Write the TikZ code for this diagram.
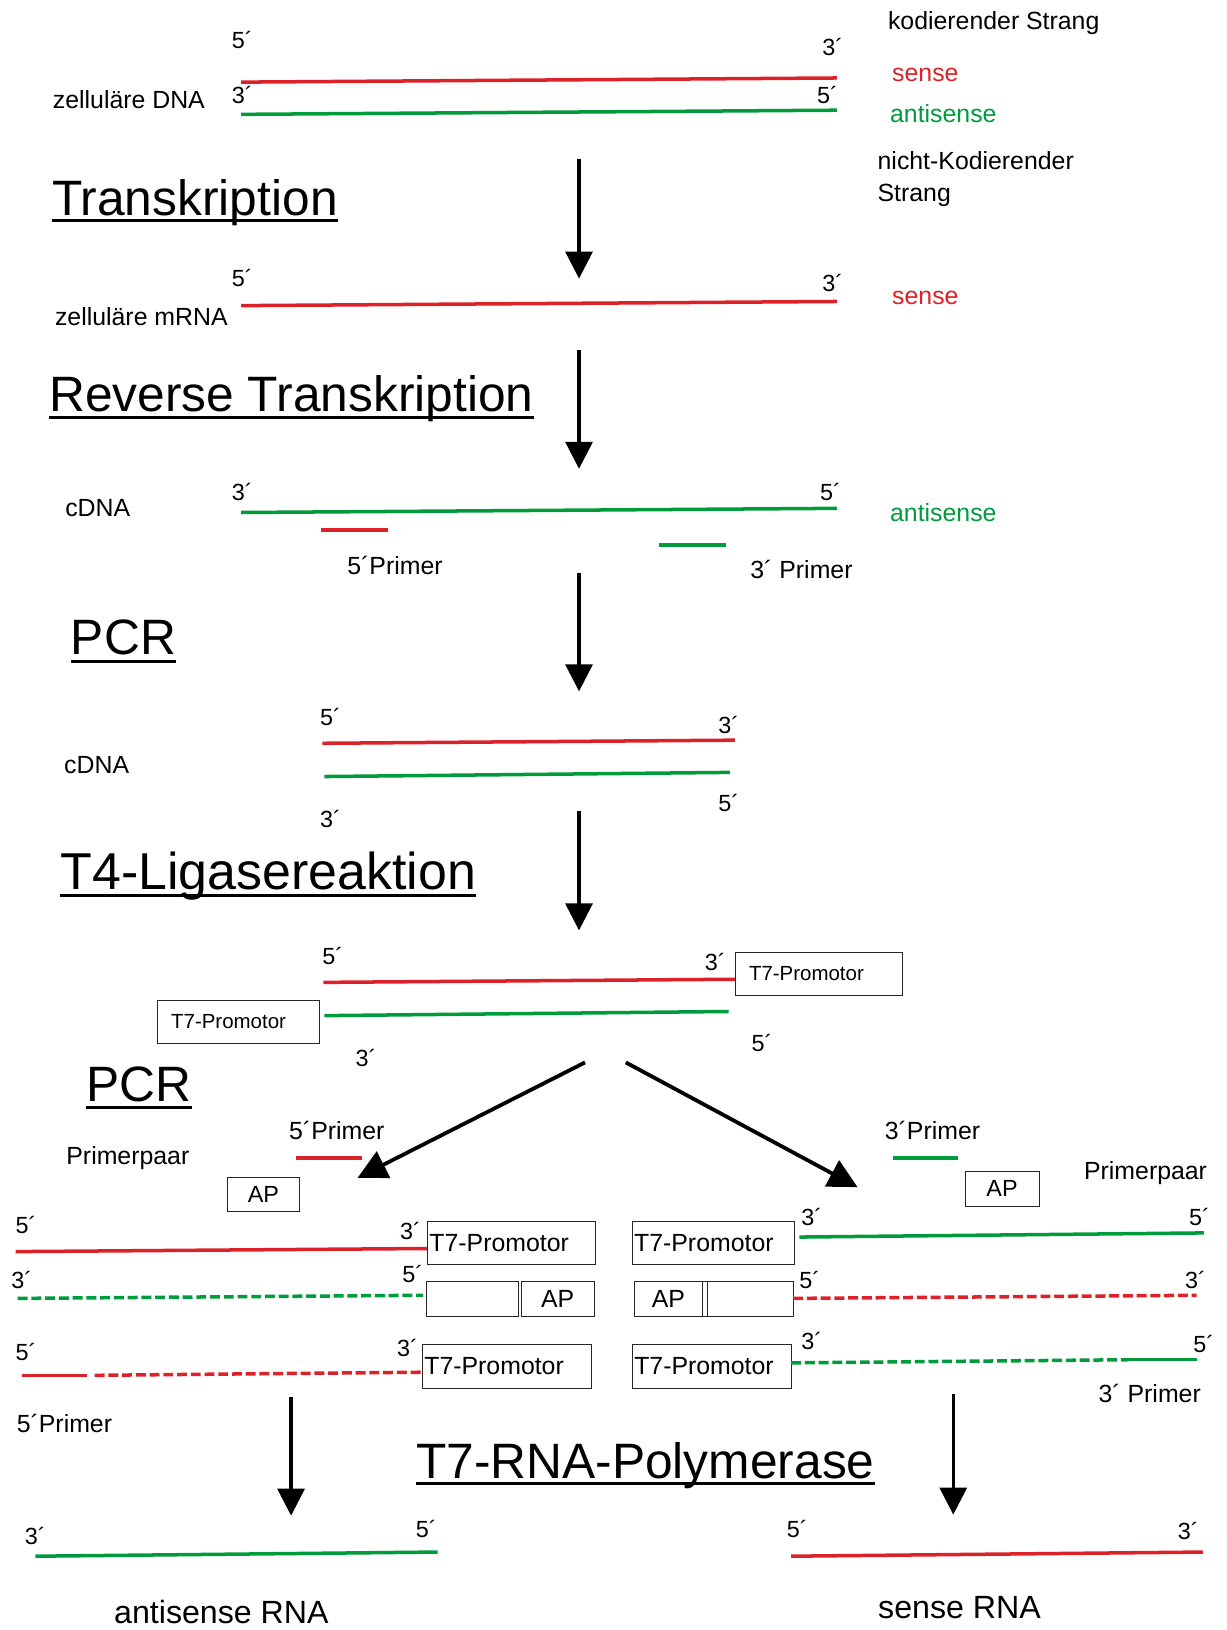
\documentclass[tikz,border=0pt]{standalone}
\usepackage{fontspec}
\setmainfont{Liberation Sans}
\usetikzlibrary{arrows.meta}
\definecolor{cred}{HTML}{DC2228}
\definecolor{cgreen}{HTML}{009B3A}
\tikzset{
  every picture/.style={x=0.025cm, y=-0.025cm},
  sensestrand/.style={draw=cred, line width=2.4pt},
  antistrand/.style={draw=cgreen, line width=2.4pt},
  gapped/.style={dash pattern=on 6.8pt off 2.6pt},
  primer/.style={line width=2.8pt},
  prime/.style={font=\fontsize{16}{18}\selectfont, inner sep=0pt},
  lab/.style={font=\fontsize{17}{22}\selectfont, inner sep=0pt},
  heading/.style={font=\fontsize{34}{40}\selectfont, anchor=base west, inner sep=0pt},
  uline/.style={line width=2.1pt},
  flow/.style={-{Triangle[length=6.5mm, width=6.5mm]}, line width=2.2pt},
  fork/.style={-{Triangle[length=7mm, width=7mm]}, line width=2.6pt},
  box/.style={draw=black!85, line width=0.6pt, inner sep=0pt, anchor=north west},
}

\begin{document}
\begin{tikzpicture}
  \useasboundingbox (0,0) rectangle (1180,1568);
  % zellulaere DNA
  \node[prime] (d5) at (233,38) {5´};
  \node[prime] (d3) at (801,45) {3´};
  \node[prime] (e3) at (233,91) {3´};
  \node[prime] (e5) at (796,91) {5´};
  \node[lab] (dna) at (124,96) {zelluläre DNA};
  \draw[sensestrand] (232,79) -- (805,75);
  \draw[antistrand] (232,110) -- (805,106);
  \node[lab, anchor=west] (kod) at (854,22) {kodierender Strang};
  \node[lab, anchor=west, text=cred] (sense1) at (858,72) {sense};
  \node[lab, anchor=west, text=cgreen] (anti1) at (856,109) {antisense};
  \node[lab, anchor=west, align=left] (nkod) at (844,172) {nicht-Kodierender\\Strang};
  \node[heading] (t1) at (50,207) {Transkription};
  \draw[uline] ([yshift=-0.13cm]t1.base west) -- ([yshift=-0.13cm]t1.base east);
  \coordinate (a1s) at (557,153);
  \coordinate (a1e) at (557,268);
  \draw[flow] (a1s) -- (a1e);
  % mRNA
  \node[prime] (m5) at (233,267) {5´};
  \node[prime] (m3) at (801,272) {3´};
  \node[lab] (mrna) at (136,305) {zelluläre mRNA};
  \draw[sensestrand] (232,294) -- (805,290);
  \node[lab, anchor=west, text=cred] (sense2) at (858,287) {sense};
  \node[heading] (t2) at (47,396) {Reverse Transkription};
  \draw[uline] ([yshift=-0.15cm]t2.base west) -- ([yshift=-0.15cm]t2.base east);
  \coordinate (a2s) at (557,337);
  \coordinate (a2e) at (557,451);
  \draw[flow] (a2s) -- (a2e);
  % cDNA
  \node[prime] (c3) at (233,473) {3´};
  \node[prime] (c5) at (799,473) {5´};
  \node[lab] (cdna1) at (94,489) {cDNA};
  \draw[antistrand] (232,493) -- (805,489);
  \node[lab, anchor=west, text=cgreen] (anti2) at (856,493) {antisense};
  \draw[primer, cred] (309,510) -- (373,510);
  \draw[primer, cgreen] (634,524) -- (698,524);
  \node[lab] (p5a) at (380,544) {5´Primer};
  \node[lab] (p3a) at (771,548) {3´ Primer};
  \node[heading] (t3) at (68,630) {PCR};
  \draw[uline] ([yshift=-0.15cm]t3.base west) -- ([yshift=-0.15cm]t3.base east);
  \coordinate (a3s) at (557,551);
  \coordinate (a3e) at (557,665);
  \draw[flow] (a3s) -- (a3e);
  % doppelstraengige cDNA
  \node[prime] (f5) at (318,690) {5´};
  \node[prime] (f3) at (701,697) {3´};
  \node[prime] (g3) at (318,788) {3´};
  \node[prime] (g5) at (701,772) {5´};
  \node[lab] (cdna2) at (93,736) {cDNA};
  \draw[sensestrand] (310,715) -- (707,712);
  \draw[antistrand] (312,747) -- (702,743);
  \node[heading, font=\fontsize{35.5}{42}\selectfont] (t4) at (58,856) {T4-Ligasereaktion};
  \draw[uline] ([yshift=-0.13cm]t4.base west) -- ([yshift=-0.13cm]t4.base east);
  \coordinate (a4s) at (557,780);
  \coordinate (a4e) at (557,895);
  \draw[flow] (a4s) -- (a4e);
  % mit T7-Promotor
  \node[prime] (h5) at (320,920) {5´};
  \node[prime] (h3) at (688,925) {3´};
  \node[prime] (k3) at (352,1018) {3´};
  \node[prime] (k5) at (733,1003) {5´};
  \draw[sensestrand] (311,945) -- (707,942);
  \draw[antistrand] (312,977) -- (701,973);
  \node[box, minimum width=4.025cm, minimum height=1.025cm, text width=3.37cm, inner xsep=0.325cm, align=left, font=\fontsize{14}{16}\selectfont] (tpr) at (707,916) {T7-Promotor};
  \node[box, minimum width=3.9cm, minimum height=1.025cm, text width=3.24cm, inner xsep=0.325cm, align=left, font=\fontsize{14}{16}\selectfont] (tpl) at (151,962) {T7-Promotor};
  \node[heading] (t5) at (83,1060) {PCR};
  \draw[uline] ([yshift=-0.13cm]t5.base west) -- ([yshift=-0.13cm]t5.base east);
  \coordinate (fork) at (582,1022);
  \coordinate (forkl) at (344,1133);
  \coordinate (forkr) at (825,1142);
  \draw[fork] ([xshift=-0.48cm]fork) -- (forkl);
  \draw[fork] ([xshift=0.5cm]fork) -- (forkr);
  % Primerpaare
  \node[lab] (p5b) at (324,1087) {5´Primer};
  \draw[primer, cred] (285,1114) -- (348,1114);
  \node[lab] (pp1) at (123,1114) {Primerpaar};
  \node[box, minimum width=1.75cm, minimum height=0.825cm, font=\fontsize{16}{18}\selectfont] (ap1) at (218,1132) {AP};
  \node[lab] (p3b) at (897,1087) {3´Primer};
  \draw[primer, cgreen] (859,1114) -- (922,1114);
  \node[box, minimum width=1.775cm, minimum height=0.85cm, font=\fontsize{16}{18}\selectfont] (ap2) at (928,1126) {AP};
  \node[lab] (pp2) at (1102,1128) {Primerpaar};
  % links: antisense-Weg
  \node[prime] (l5a) at (25,1178) {5´};
  \node[prime] (l3a) at (395,1184) {3´};
  \node[prime] (l3b) at (21,1231) {3´};
  \node[prime] (l5b) at (397,1226) {5´};
  \node[prime] (l5c) at (25,1301) {5´};
  \node[prime] (l3c) at (392,1297) {3´};
  \draw[sensestrand] (15,1204) -- (411,1201);
  \draw[antistrand, gapped] (17,1249) -- (407,1246);
  \draw[sensestrand] (21,1323) -- (84,1323);
  \draw[sensestrand, gapped] (91,1323) -- (406,1320);
  \node[box, minimum width=4.025cm, minimum height=1.025cm, text width=3.94cm, inner xsep=0.04cm, align=left, font=\fontsize{17}{19}\selectfont] (tla) at (411,1175) {T7-Promotor};
  \node[box, minimum width=2.2cm, minimum height=0.85cm] (ela) at (410,1232) {};
  \node[box, minimum width=1.75cm, minimum height=0.85cm, font=\fontsize{17}{19}\selectfont] (apl) at (501,1232) {AP};
  \node[box, minimum width=4.05cm, minimum height=1.05cm, text width=3.96cm, inner xsep=0.04cm, align=left, font=\fontsize{17}{19}\selectfont] (tlc) at (406,1293) {T7-Promotor};
  \node[lab] (p5c) at (62,1369) {5´Primer};
  \coordinate (a5s) at (280,1344);
  \coordinate (a5e) at (280,1458);
  \draw[flow] (a5s) -- (a5e);
  % rechts: sense-Weg
  \node[box, minimum width=3.9cm, minimum height=1.025cm, text width=3.82cm, inner xsep=0.04cm, align=left, font=\fontsize{17}{19}\selectfont] (tra) at (608,1175) {T7-Promotor};
  \node[box, minimum width=1.625cm, minimum height=0.85cm, font=\fontsize{17}{19}\selectfont] (apr) at (610,1232) {AP};
  \node[box, minimum width=0.125cm, minimum height=0.85cm] (sep) at (675,1232) {};
  \node[box, minimum width=2.075cm, minimum height=0.85cm] (era) at (680,1232) {};
  \node[box, minimum width=3.825cm, minimum height=1.05cm, text width=3.74cm, inner xsep=0.04cm, align=left, font=\fontsize{17}{19}\selectfont] (trc) at (608,1293) {T7-Promotor};
  \node[prime] (r3a) at (781,1171) {3´};
  \node[prime] (r5a) at (1154,1171) {5´};
  \node[prime] (r5b) at (779,1231) {5´};
  \node[prime] (r3b) at (1150,1231) {3´};
  \node[prime] (r3c) at (781,1290) {3´};
  \node[prime] (r5c) at (1158,1293) {5´};
  \draw[antistrand] (769,1190) -- (1158,1186);
  \draw[sensestrand, gapped] (763,1249) -- (1151,1246);
  \draw[antistrand, gapped] (761,1311) -- (1085,1308);
  \draw[antistrand] (1085,1308) -- (1151,1308);
  \node[lab] (p3c) at (1106,1340) {3´ Primer};
  \coordinate (a6s) at (917,1341);
  \coordinate (a6e) at (917,1457);
  \draw[flow] (a6s) -- (a6e);
  % T7-RNA-Polymerase
  \node[heading] (t6) at (400,1422) {T7-RNA-Polymerase};
  \draw[uline] ([yshift=-0.13cm]t6.base west) -- ([yshift=-0.13cm]t6.base east);
  \node[prime] (s3) at (34,1478) {3´};
  \node[prime] (s5) at (410,1471) {5´};
  \draw[antistrand] (34,1497) -- (421,1493);
  \node[prime] (u5) at (767,1471) {5´};
  \node[prime] (u3) at (1143,1473) {3´};
  \draw[sensestrand] (761,1497) -- (1157,1493);
  \node[lab, font=\fontsize{22}{26}\selectfont] (arna) at (213,1551) {antisense RNA};
  \node[lab, font=\fontsize{22}{26}\selectfont] (srna) at (923,1546) {sense RNA};
\end{tikzpicture}
\end{document}
